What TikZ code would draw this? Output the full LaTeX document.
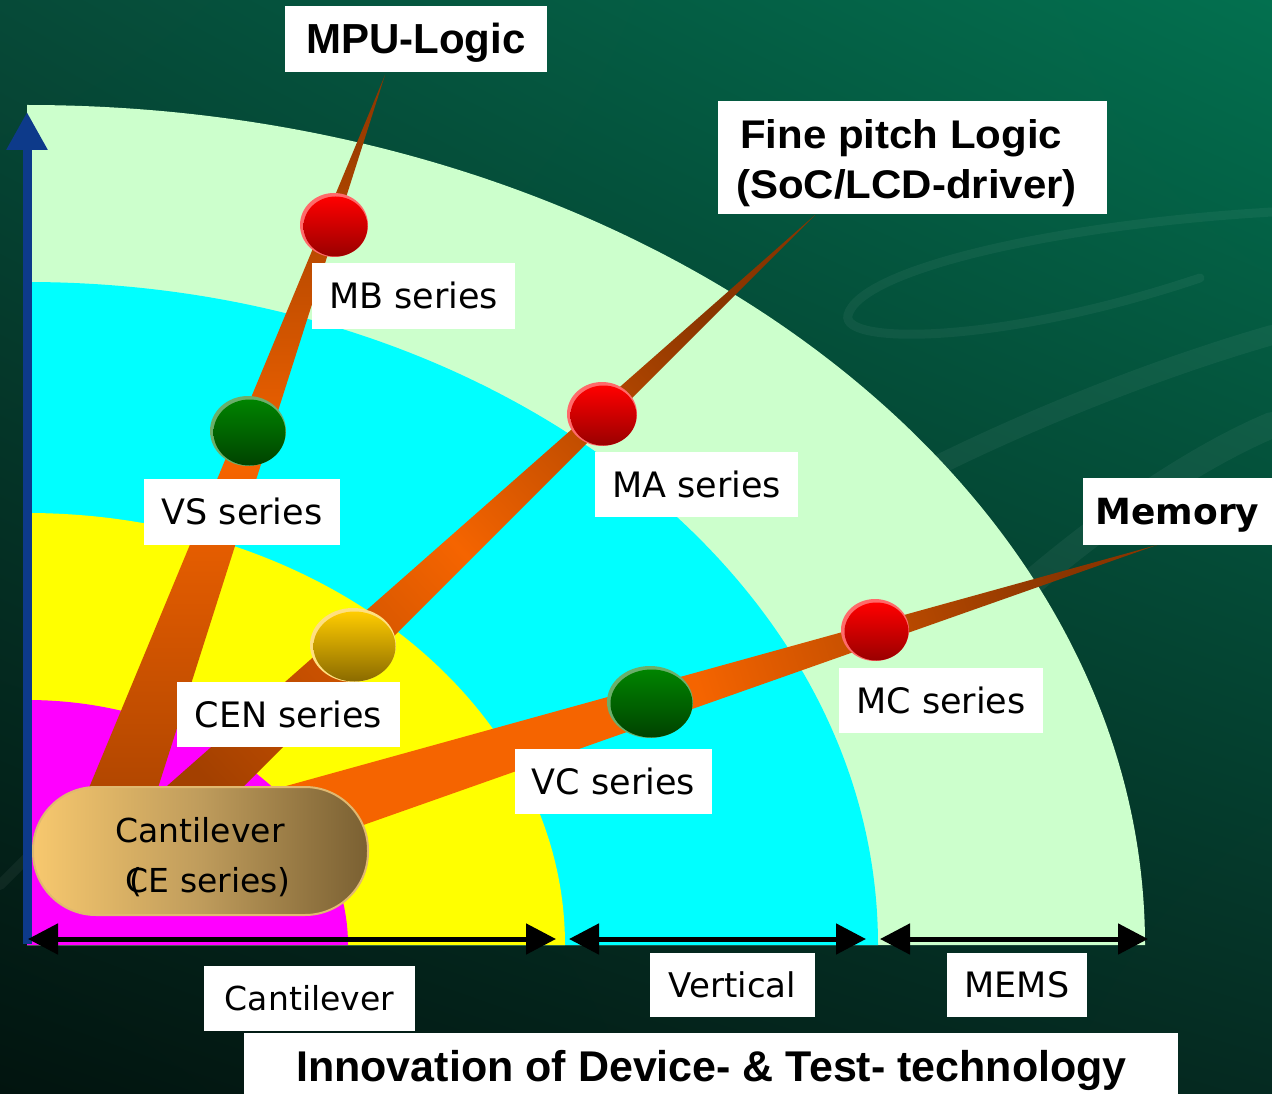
\documentclass[tikz,border=0pt]{standalone}
\usepackage{fontspec}
\usepackage{graphicx}
\usetikzlibrary{arrows.meta,shadings}
\newfontfamily\dvs{DejaVu Sans}
\newfontfamily\lbs{Liberation Sans}
\definecolor{bgUL}{HTML}{064A38}
\definecolor{bgUR}{HTML}{03704F}
\definecolor{bgLL}{HTML}{02140F}
\definecolor{bgLR}{HTML}{052A21}
\definecolor{lgreen}{HTML}{CCFFCC}
\definecolor{cyanf}{HTML}{00FFFF}
\definecolor{yel}{HTML}{FFFF00}
\definecolor{mag}{HTML}{FF00FF}
\definecolor{brownA}{HTML}{8A3500}
\definecolor{orangeA}{HTML}{F56400}
\definecolor{brownB}{HTML}{A34000}
\definecolor{axisblue}{HTML}{0D3A8A}
\definecolor{pillL}{HTML}{F7C86E}
\definecolor{pillM}{HTML}{BF9C5C}
\definecolor{pillR}{HTML}{7A6032}
\definecolor{pillE}{HTML}{E0B870}
\definecolor{redT}{HTML}{FF0000}
\definecolor{redB}{HTML}{990000}
\definecolor{redR}{HTML}{FF6A6A}
\definecolor{grnT}{HTML}{008400}
\definecolor{grnB}{HTML}{004200}
\definecolor{grnR}{HTML}{6BAF6B}
\definecolor{gldT}{HTML}{FFCC00}
\definecolor{gldB}{HTML}{8A6A00}
\definecolor{gldR}{HTML}{FFE080}
\newcommand\drawball[7]{%
  \fill[#5] (#1,#2) ellipse[x radius=#3, y radius=#4];
  \shade[top color=#6,bottom color=#7] ({#1+1.5},{#2-1.5}) ellipse[x radius={#3-2}, y radius={#4-2}];}
\tikzset{
  lab/.style={fill=white, inner sep=0pt, text=black, text height=25.5pt, text depth=0pt,
    font=\dvs\fontsize{35}{42}\selectfont},
  boldlab/.style={fill=white, inner sep=0pt, text=black, text height=30pt, text depth=0pt,
    font=\lbs\bfseries\fontsize{42}{50}\selectfont},
  fptxt/.style={inner sep=0pt, text=black, font=\lbs\bfseries\fontsize{40}{48}\selectfont},
  pilltxt/.style={inner sep=0pt, text=black, font=\dvs\fontsize{33}{40}\selectfont},
  dblarrow/.style={line width=5pt, black,
    {Triangle[length=30pt,width=30pt]}-{Triangle[length=30pt,width=30pt]}},
  swoosh/.style={white, opacity=0.05, line cap=round},
  beam/.style={top color=brownA, bottom color=brownB, middle color=orangeA}
}
\begin{document}
\begin{tikzpicture}[x=1pt,y=1pt]
\useasboundingbox (0,0) rectangle (1272,-1094);
% background
\shade[upper left=bgUL,upper right=bgUR,lower left=bgLL,lower right=bgLR] (0,0) rectangle (1272,-1094);
\draw[swoosh, line width=9pt] (1272,-212) .. controls (1050,-225) and (860,-270) .. (848,-315) .. controls (840,-345) and (1000,-345) .. (1200,-278);
\draw[swoosh, line width=20pt] (880,-495) .. controls (1000,-430) and (1150,-370) .. (1272,-335);
\draw[swoosh, line width=26pt] (1000,-610) .. controls (1100,-520) and (1200,-455) .. (1272,-425);
\draw[swoosh, line width=10pt] (0,-885) -- (40,-845);
% fan
\fill[lgreen] (27,-945) -- (1145,-945) arc[start angle=0,end angle=90,x radius=1118pt,y radius=840pt] -- cycle;
\fill[cyanf] (27,-945) -- (878,-945) arc[start angle=0,end angle=90,x radius=851pt,y radius=663pt] -- cycle;
\fill[yel] (27,-945) -- (565,-945) arc[start angle=0,end angle=90,x radius=538pt,y radius=432pt] -- cycle;
\fill[mag] (27,-945) -- (348,-945) arc[start angle=0,end angle=90,x radius=321pt,y radius=245pt] -- cycle;
% beams
\shade[beam] (385,-75) -- (59,-860) -- (135,-860) -- cycle;
\shade[beam, shading angle=-47] (815,-215) -- (83,-860) -- (170,-860) -- cycle;
\shade[top color=brownA, bottom color=orangeA, middle color=orangeA, shading angle=-72] (1157,-545) -- (250,-796) -- (250,-865) -- cycle;
% balls
\drawball{334}{-225}{34}{32}{redR}{redT}{redB}
\drawball{248}{-431}{38}{35}{grnR}{grnT}{grnB}
\drawball{602}{-414}{35}{32}{redR}{redT}{redB}
\drawball{353}{-645}{43}{37}{gldR}{gldT}{gldB}
\drawball{650}{-702}{43}{36}{grnR}{grnT}{grnB}
\drawball{875}{-630}{34}{31}{redR}{redT}{redB}
% pill
\node[shade, left color=pillL, right color=pillR, middle color=pillM, draw=pillE, line width=2pt,
  rounded corners=63pt, minimum width=335pt, minimum height=128pt, inner sep=0pt] (pill) at (200.5,-851) {};
\node[pilltxt, anchor=base] (pillA) at (200,-842) {Cantilever};
\node[pilltxt, anchor=base] (pillB) at (210,-892) {(\kern-0.5em CE series)};
% axis
\coordinate (ax0) at (27,-944);
\coordinate (ax1) at (27,-112);
\draw[line width=9pt, axisblue, -{Triangle[length=38pt,width=39pt]}] (ax0) -- (ax1);
% bottom arrows
\coordinate (a1) at (28,-939);
\coordinate (a2) at (556,-939);
\coordinate (b1) at (569,-939);
\coordinate (b2) at (866,-939);
\coordinate (m1) at (880,-939);
\coordinate (m2) at (1148,-939);
\draw[dblarrow] (a1) -- (a2);
\draw[dblarrow] (b1) -- (b2);
\draw[dblarrow] (m1) -- (m2);
% labels
\node[boldlab, minimum width=262pt, minimum height=66pt] (mpu) at (416,-39) {MPU-Logic};
\node[fill=white, minimum width=389pt, minimum height=113pt, inner sep=0pt] (fp) at (912.5,-157.5) {};
\node[fptxt, anchor=base west] (fpA) at (740,-149) {\scalebox{1.05}[1]{Fine pitch Logic}};
\node[fptxt, anchor=base west] (fpB) at (736,-199) {\scalebox{1.05}[1]{(SoC/LCD-driver)}};
\node[lab, text height=26.2pt, font=\dvs\bfseries\fontsize{36}{43}\selectfont, minimum width=189pt, minimum height=67pt] (mem) at (1177.5,-511.5) {Memory};
\node[lab, minimum width=203pt, minimum height=66pt] (mb) at (413.5,-296) {MB series};
\node[lab, minimum width=196pt, minimum height=66pt] (vs) at (242,-512) {VS series};
\node[lab, minimum width=203pt, minimum height=65pt] (ma) at (696.5,-484.5) {MA series};
\node[lab, minimum width=223pt, minimum height=65pt] (cen) at (288.5,-714.5) {CEN series};
\node[lab, minimum width=204pt, minimum height=65pt] (mc) at (941,-700.5) {MC series};
\node[lab, minimum width=197pt, minimum height=65pt] (vc) at (613.5,-781.5) {VC series};
\node[lab, font=\dvs\fontsize{33}{40}\selectfont, text height=24pt, minimum width=211pt, minimum height=65pt] (cl) at (309.5,-998.5) {Cantilever};
\node[lab, font=\dvs\fontsize{34}{40}\selectfont, text height=24.8pt, minimum width=165pt, minimum height=64pt] (vt) at (732.5,-985) {Vertical};
\node[lab, font=\dvs\fontsize{35}{40}\selectfont, minimum width=140pt, minimum height=64pt] (mems) at (1017,-985) {MEMS};
\node[fill=white, minimum width=934pt, minimum height=80pt, inner sep=0pt, anchor=north] (inbox) at (711,-1033) {};
\node[inner sep=0pt, anchor=base, font=\lbs\bfseries\fontsize{43}{50}\selectfont] (intxt) at (711.5,-1081) {Innovation of Device- \& Test- technology};
\end{tikzpicture}
\end{document}
